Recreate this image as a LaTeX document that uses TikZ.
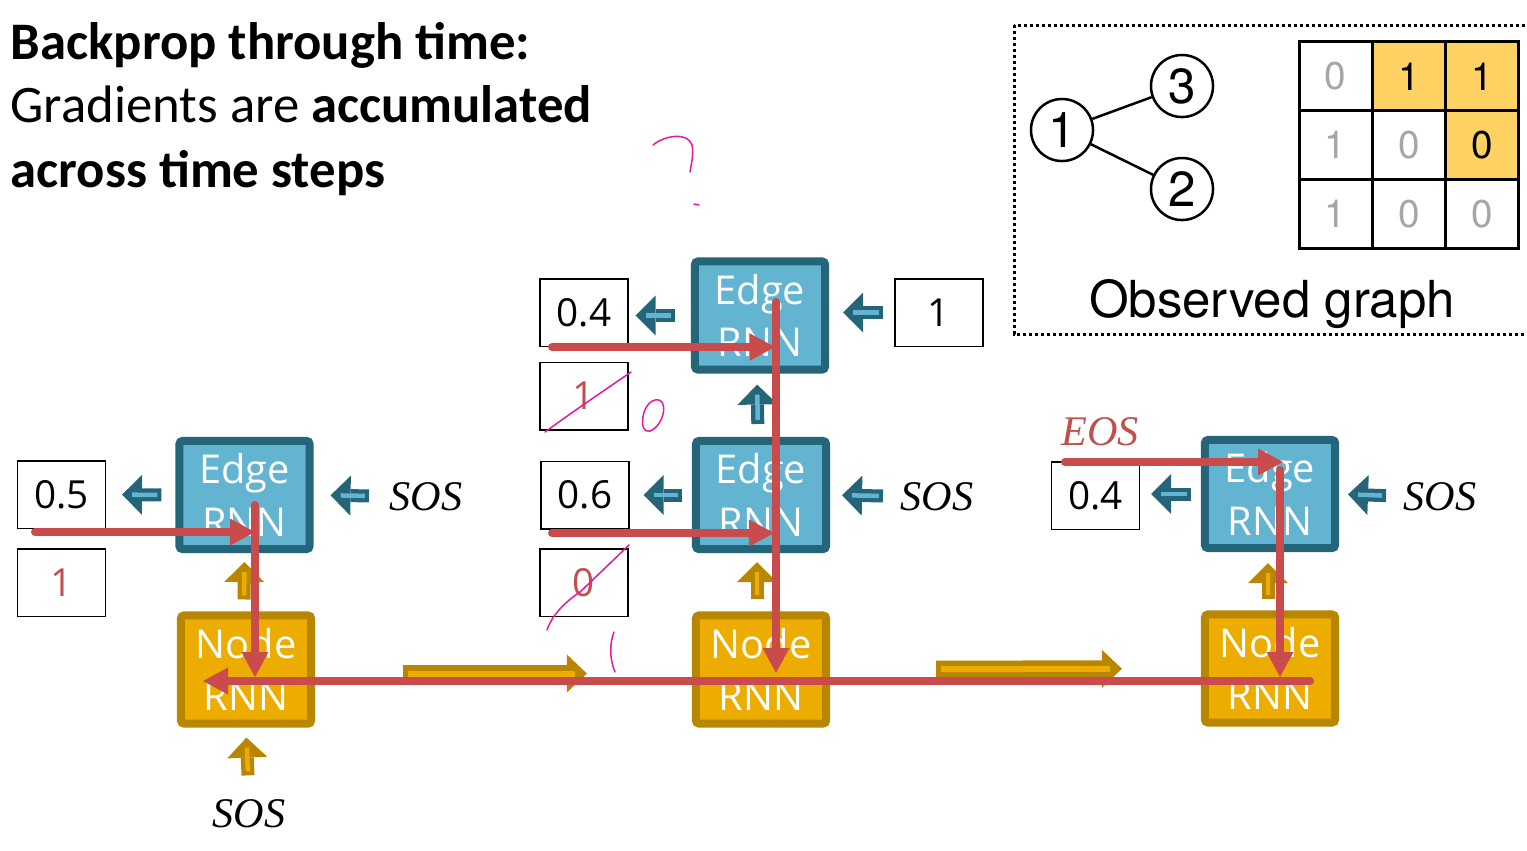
\documentclass[tikz,border=0pt]{standalone}
\usepackage{fontspec}
\setmainfont{Carlito}
\newfontfamily\uifont{Open Sans}
\newfontfamily\helvfont{TeX Gyre Heros}
\newfontfamily\serifit{Liberation Serif}
\usetikzlibrary{arrows.meta,positioning,calc}

\definecolor{edgefill}{HTML}{62B4D0}
\definecolor{edgeline}{HTML}{246579}
\definecolor{nodefill}{HTML}{EDAD00}
\definecolor{nodeline}{HTML}{B88600}
\definecolor{gradred}{HTML}{C94B4B}
\definecolor{labred}{HTML}{C0504D}
\definecolor{cellyel}{HTML}{FDD263}
\definecolor{softgrey}{HTML}{A6A6A6}
\definecolor{inkpink}{HTML}{E6199B}

\begin{document}
\begin{tikzpicture}[x=0.01cm, y=-0.01cm,
    edgebox/.style={draw=edgeline, fill=edgefill, line width=0.08cm, rounded corners=0.03cm,
                    minimum width=1.30cm, minimum height=1.08cm, inner sep=0pt,
                    align=center, text=white, font=\uifont\fontsize{11.3}{15}\selectfont},
    nodebox/.style={edgebox, draw=nodeline, fill=nodefill},
    valbox/.style={draw, line width=0.015cm, minimum width=0.875cm, minimum height=0.675cm,
                   inner sep=0pt, font=\uifont\fontsize{11}{12}\selectfont},
    token/.style={inner sep=0pt, anchor=base, font=\serifit\itshape\fontsize{12}{12}\selectfont},
    headline/.style={inner sep=0pt, anchor=base west, font=\fontsize{15}{18}\selectfont},
    gnode/.style={circle, draw, line width=0.025cm, minimum size=0.62cm, inner sep=0pt,
                  font=\helvfont\fontsize{14}{14}\selectfont},
    cell/.style={draw, line width=0.03cm, minimum width=0.733cm, minimum height=0.687cm,
                 inner sep=0pt, font=\helvfont\fontsize{11}{11}\selectfont},
    lowcell/.style={cell, fill=white, text=softgrey},
    hicell/.style={cell, fill=cellyel, text=black},
    tealarr/.style 2 args={draw=edgeline, line width=0.13cm, shorten <=#1, shorten >=#2,
                  -{Triangle[length=0.20cm, width=0.40cm, line width=0pt]},
                  postaction={draw=edgefill, line width=0.045cm, -, shorten <=#1+0.04cm, shorten >=#2+0.10cm}},
    goldarr/.style 2 args={draw=nodeline, line width=0.13cm, shorten <=#1, shorten >=#2,
                  -{Triangle[length=0.20cm, width=0.40cm, line width=0pt]},
                  postaction={draw=nodefill, line width=0.045cm, -, shorten <=#1+0.04cm, shorten >=#2+0.10cm}},
    bigarr/.style 2 args={draw=nodeline, line width=0.17cm, shorten <=#1, shorten >=#2,
                  -{Triangle[length=0.20cm, width=0.38cm, line width=0pt]},
                  postaction={draw=nodefill, line width=0.06cm, -, shorten <=#1+0.05cm, shorten >=#2+0.12cm}},
    grad/.style={draw=gradred, line width=0.08cm, line cap=round,
                 -{Triangle[length=0.25cm, width=0.27cm, line width=0pt]}},
    ink/.style={draw=inkpink, line width=0.015cm, line cap=round}
]
    \useasboundingbox (0,0) rectangle (1527,850);

    % headline
    \node[headline] (head1) at (10,59) {\bfseries Backprop through time:};
    \node[headline] (head2) at (10,122) {Gradients are \textbf{accumulated}};
    \node[headline] (head3) at (10,187) {\bfseries across time steps};

    % observed graph panel
    \draw[line width=0.03cm, dash pattern=on 0.03cm off 0.03cm] (1014,25) rectangle (1540,334);
    \node[gnode] (g1) at (1062,130) {1};
    \node[gnode] (g3) at (1182,86) {3};
    \node[gnode] (g2) at (1182,189) {2};
    \draw[line width=0.025cm] (g1) -- (g3);
    \draw[line width=0.025cm] (g1) -- (g2);
    \foreach \c/\r/\v/\sty in {0/0/0/lowcell, 1/0/1/hicell, 2/0/1/hicell,
                               0/1/1/lowcell, 1/1/0/lowcell, 2/1/0/hicell,
                               0/2/1/lowcell, 1/2/0/lowcell, 2/2/0/lowcell}
        \node[\sty] (m\r\c) at ({1335.7+73.3*\c},{76.3+68.7*\r}) {\v};
    \node[anchor=base, inner sep=0pt, font=\helvfont\fontsize{14.5}{14.5}\selectfont] (obs) at (1272,317) {Observed graph};

    % RNN cells
    \node[edgebox] (e1) at (244.5,495) {Edge\\RNN};
    \node[edgebox] (e2) at (760,315.5) {Edge\\RNN};
    \node[edgebox] (e3) at (761,495) {Edge\\RNN};
    \node[edgebox] (e4) at (1270,494) {Edge\\RNN};
    \node[nodebox] (n1) at (246,669.5) {Node\\RNN};
    \node[nodebox] (n2) at (761,669.5) {Node\\RNN};
    \node[nodebox] (n3) at (1270,668.5) {Node\\RNN};

    % outputs and targets
    \node[valbox] (o1) at (61.5,494.5) {0.5};
    \node[valbox, text=labred] (t1) at (61.5,582.5) {1};
    \node[valbox] (o2) at (584,312.5) {0.4};
    \node[valbox, text=labred] (t2) at (584,396) {1};
    \node[valbox] (o3) at (585,495) {0.6};
    \node[valbox, text=labred] (t3) at (584,582.5) {0};
    \node[valbox] (o4) at (1095.5,495.5) {0.4};
    \node[valbox] (x2) at (939,312.5) {1};

    % tokens
    \node[token] (s1) at (426,510) {SOS};
    \node[token] (s3) at (937,510) {SOS};
    \node[token] (s4) at (1440,510) {SOS};
    \node[token] (s0) at (249,827) {SOS};
    \node[token, text=labred] (eos) at (1100,445) {EOS};

    % block arrows
    \draw[tealarr={0.14cm}{0.16cm}] (e1.west) -- (o1.east);
    \draw[tealarr={0.20cm}{0.17cm}] (s1.west) -- (e1.east);
    \draw[tealarr={0.16cm}{0.07cm}] (e2.west) -- (o2.east |- e2.west);
    \draw[tealarr={0.11cm}{0.14cm}] (x2.west) -- (e2.east |- x2.west);
    \draw[tealarr={0.10cm}{0.14cm}] (e3.west) -- (o3.east);
    \draw[tealarr={0.17cm}{0.12cm}] (s3.west) -- (e3.east);
    \draw[tealarr={0.10cm}{0.11cm}] (e4.west) -- (o4.east |- e4.west);
    \draw[tealarr={0.17cm}{0.09cm}] (s4.west) -- (e4.east);
    \draw[tealarr={0.13cm}{0.11cm}] ([xshift=-0.03cm]e3.north) -- ([xshift=-0.03cm]e2.south);
    \draw[goldarr={0.12cm}{0.09cm}] ([xshift=-0.02cm]n1.north) -- (e1.south);
    \draw[goldarr={0.12cm}{0.09cm}] ([xshift=-0.04cm]n2.north) -- ([xshift=-0.04cm]e3.south);
    \draw[goldarr={0.11cm}{0.11cm}] ([xshift=-0.02cm]n3.north) -- ([xshift=-0.02cm]e4.south);
    \draw[goldarr={0.23cm}{0.10cm}] (s0.north) -- (n1.south);
    \draw[bigarr={0.88cm}{1.05cm}] ([yshift=-0.04cm]n1.east) -- ([yshift=-0.04cm]n2.west);
    \draw[bigarr={1.06cm}{0.79cm}] (n2.east) -- (n3.west);

    % gradient flow
    \coordinate (r1a) at (35,532);   \coordinate (r1b) at (255,532);
    \coordinate (r2a) at (255,505);  \coordinate (r2b) at (255,677);
    \coordinate (r3a) at (552,347);  \coordinate (r3b) at (775,347);
    \coordinate (r4a) at (776,302);  \coordinate (r4b) at (776,673);
    \coordinate (r5a) at (552,533);  \coordinate (r5b) at (774,533);
    \coordinate (r6a) at (1065,462); \coordinate (r6b) at (1283,462);
    \coordinate (r7a) at (1280,470); \coordinate (r7b) at (1280,677);
    \coordinate (r8a) at (1310,681); \coordinate (r8b) at (203,681);
    \draw[grad] (r1a) -- (r1b);
    \draw[grad] (r2a) -- (r2b);
    \draw[grad] (r3a) -- (r3b);
    \draw[grad] (r4a) -- (r4b);
    \draw[grad] (r5a) -- (r5b);
    \draw[grad] (r6a) -- (r6b);
    \draw[grad] (r7a) -- (r7b);
    \draw[grad] (r8a) -- (r8b);

    % handwriting
    \draw[ink] (653,145) .. controls (665,135) and (688,132) .. (692,145)
               .. controls (694,155) and (691,165) .. (690,172);
    \draw[ink] (694,204) -- (699,205);
    \draw[ink] (655,400) .. controls (670,397) and (664,426) .. (650,431)
               .. controls (638,435) and (641,403) .. (655,400);
    \draw[ink] (545,432) .. controls (575,410) and (605,390) .. (631,372);
    \draw[ink] (547,630) .. controls (552,615) and (565,602) .. (580,592) -- (629,545);
    \draw[ink] (614,632) .. controls (609,645) and (610,660) .. (615,672);
\end{tikzpicture}
\end{document}
